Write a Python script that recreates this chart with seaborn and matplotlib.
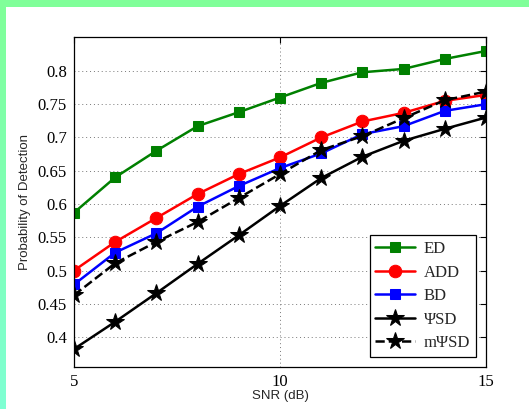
import numpy as np
import pandas as pd
import matplotlib
matplotlib.use("Agg")
import matplotlib.pyplot as plt
import seaborn as sns
from matplotlib.patches import Rectangle
from matplotlib.colors import LinearSegmentedColormap

snr = [5, 6, 7, 8, 9, 10, 11, 12, 13, 14, 15]
ed = [0.587, 0.640, 0.680, 0.717, 0.738, 0.760, 0.782, 0.798, 0.803, 0.818, 0.830]
add = [0.500, 0.543, 0.579, 0.615, 0.645, 0.670, 0.700, 0.724, 0.737, 0.755, 0.764]
bd = [0.479, 0.527, 0.556, 0.596, 0.627, 0.654, 0.676, 0.705, 0.717, 0.740, 0.750]
psd = [0.382, 0.423, 0.466, 0.510, 0.553, 0.597, 0.639, 0.671, 0.695, 0.713, 0.730]
mpsd = [0.463, 0.511, 0.543, 0.573, 0.609, 0.645, 0.681, 0.702, 0.729, 0.756, 0.769]
labels = ["ED", "ADD", "BD", "ΨSD", "mΨSD"]
xticks = [5, 10, 15]
yticks = [0.4, 0.45, 0.5, 0.55, 0.6, 0.65, 0.7, 0.75, 0.8]

sns.set_style("white")
plt.rcParams['font.family'] = ['Liberation Serif', 'DejaVu Serif']

fig = plt.figure(figsize=(5.29, 4.09), dpi=100)
fig.patch.set_facecolor("white")

# decorative border: top strip and left gradient strip
fig.patches.append(Rectangle((0, 1 - 7/409), 1, 7/409, transform=fig.transFigure,
                             facecolor=(0.5, 1.0, 0.6), edgecolor='none', zorder=0))
gax = fig.add_axes([0, 0, 6/529, 1 - 7/409])
grad = np.linspace(0, 1, 256).reshape(-1, 1)
cm = LinearSegmentedColormap.from_list("g", [(0.5, 1.0, 0.6), (0.5, 1.0, 0.83)])
gax.imshow(grad, aspect='auto', cmap=cm, origin='upper')
gax.axis('off')

ax = fig.add_axes([74/529, 1 - 367/409, (486 - 74)/529, (367 - 37)/409])

series = [ed, add, bd, psd, mpsd]
colors = ["#008000", "#ff0000", "#0000ff", "black", "black"]
markers = ["s", "o", "s", "*", "*"]
msizes = [7, 9, 7, 13, 13]
styles = ["-", "-", "-", "-", "--"]
for vals, lab, c, m, ms, ls in zip(series, labels, colors, markers, msizes, styles):
    df = pd.DataFrame({"snr": snr, "pd": vals})
    sns.lineplot(data=df, x="snr", y="pd", ax=ax, color=c, marker=m, markersize=ms,
                 linestyle=ls, linewidth=1.8, label=lab, markeredgecolor=c,
                 markerfacecolor=c)

ax.set_xlim(5, 15)
ax.set_ylim(0.355, 0.851)
ax.set_xticks(xticks)
ax.set_yticks(yticks)
ax.set_xticklabels([str(v) for v in xticks])
ax.set_yticklabels([f"{v:g}" for v in yticks])
ax.tick_params(direction='in', top=True, right=True, length=4, width=0.8,
               labelsize=12, colors='black', pad=5)
ax.grid(True, linestyle=(0, (1, 3)), color='#777777', linewidth=0.7)
for s in ax.spines.values():
    s.set_color('black')
    s.set_linewidth(0.9)
ax.set_xlabel("SNR (dB)", family='Liberation Sans', fontsize=9.5, labelpad=0)
ax.set_ylabel("Probability of Detection", family='Liberation Sans', fontsize=9.5, labelpad=5)

leg = ax.legend(loc='lower right', fontsize=12, frameon=True, fancybox=False,
                edgecolor='black', framealpha=1, handlelength=2.4, borderaxespad=0.6,
                labelspacing=0.45, handletextpad=0.5, borderpad=0.35)
leg.get_frame().set_linewidth(0.9)

fig.savefig("out.png", dpi=100)
